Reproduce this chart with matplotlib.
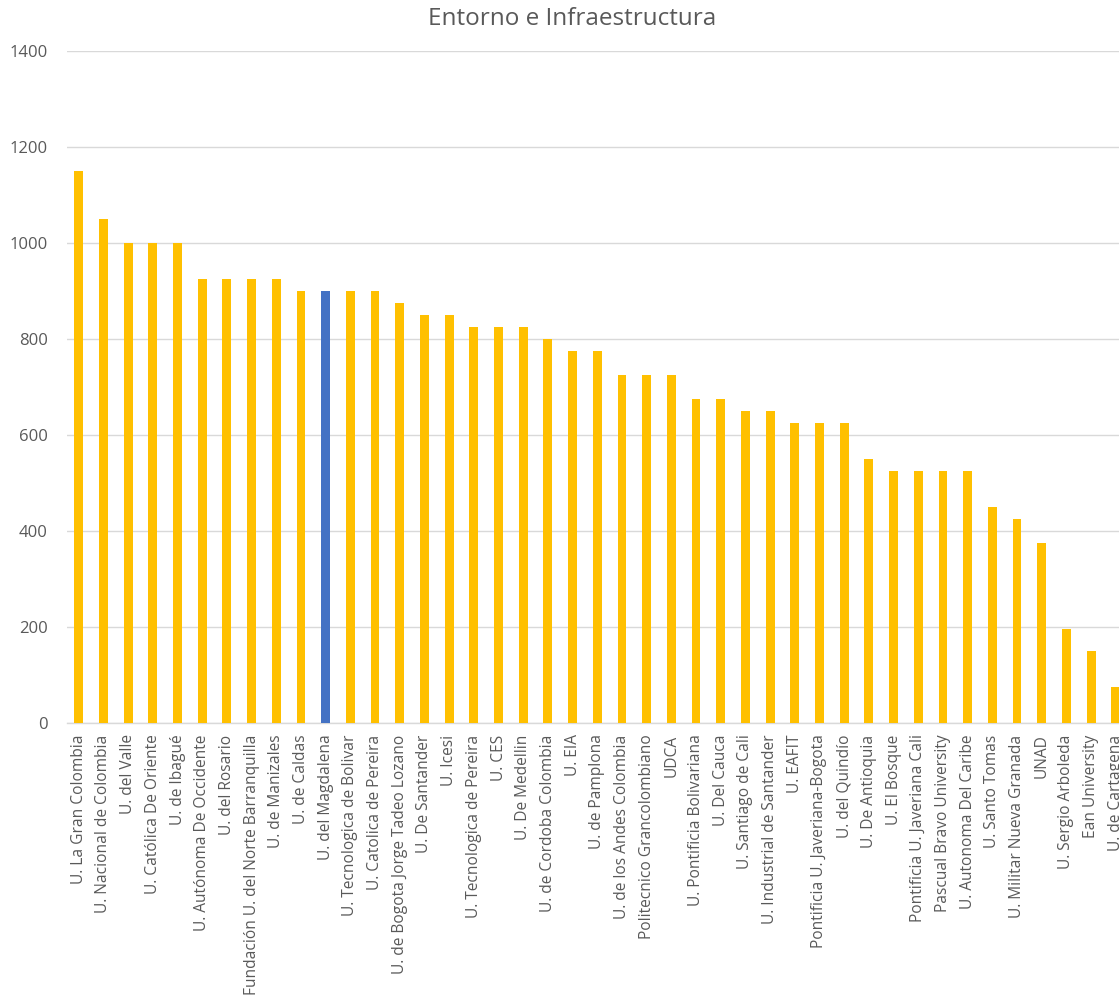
import matplotlib.pyplot as plt

plt.rcParams['font.family'] = ['Open Sans', 'DejaVu Sans']

universidades = [
    'U. La Gran Colombia', 'U. Nacional de Colombia', 'U. del Valle',
    'U. Católica De Oriente', 'U. de Ibagué', 'U. Autónoma De Occidente',
    'U. del Rosario', 'Fundación U. del Norte Barranquilla', 'U. de Manizales',
    'U. de Caldas', 'U. del Magdalena', 'U. Tecnologica de Bolivar',
    'U. Catolica de Pereira', 'U. de Bogota Jorge Tadeo Lozano', 'U. De Santander',
    'U. Icesi', 'U. Tecnologica de Pereira', 'U. CES', 'U. De Medellin',
    'U. de Cordoba Colombia', 'U. EIA', 'U. de Pamplona', 'U. de los Andes Colombia',
    'Politecnico Grancolombiano', 'UDCA', 'U. Pontificia Bolivariana', 'U. Del Cauca',
    'U. Santiago de Cali', 'U. Industrial de Santander', 'U. EAFIT',
    'Pontificia U. Javeriana-Bogota', 'U. del Quindío', 'U. De Antioquia',
    'U. El Bosque', 'Pontificia U. Javeriana Cali', 'Pascual Bravo University',
    'U. Autonoma Del Caribe', 'U. Santo Tomas', 'U. Militar Nueva Granada', 'UNAD',
    'U. Sergio Arboleda', 'Ean University', 'U. de Cartagena',
]
puntaje = [
    1150, 1050, 1000, 1000, 1000, 925, 925, 925, 925, 900, 900, 900, 900, 875,
    850, 850, 825, 825, 825, 800, 775, 775, 725, 725, 725, 675, 675, 650, 650,
    625, 625, 625, 550, 525, 525, 525, 525, 450, 425, 375, 196, 150, 75,
]
destacada = 'U. del Magdalena'

colores = ['#4472C4' if u == destacada else '#FFC000' for u in universidades]

fig = plt.figure(figsize=(11.19, 10.08), dpi=100)
ax = fig.add_axes([0.06, 0.2824, 0.94, 0.6667])

x = range(len(universidades))
ax.bar(x, puntaje, width=0.36, color=colores, zorder=3)

ax.set_ylim(0, 1400)
ax.set_yticks(range(0, 1401, 200))
ax.set_xlim(-0.47, 42.13)
ax.set_xticks(list(x))
ax.set_xticklabels(universidades, rotation=90, fontsize=11.2, color='#595959')
ax.tick_params(axis='y', labelsize=12, colors='#595959', length=0, pad=14)
ax.tick_params(axis='x', length=0, pad=8)

ax.grid(axis='y', color='#D9D9D9', linewidth=1, zorder=0)
for s in ['top', 'right', 'left']:
    ax.spines[s].set_visible(False)
ax.spines['bottom'].set_color('#D9D9D9')
ax.spines['bottom'].set_linewidth(1)

fig.text(0.511, 0.981, 'Entorno e Infraestructura', ha='center', va='center',
         fontsize=17.5, color='#595959')

fig.savefig('out.png', dpi=100)
